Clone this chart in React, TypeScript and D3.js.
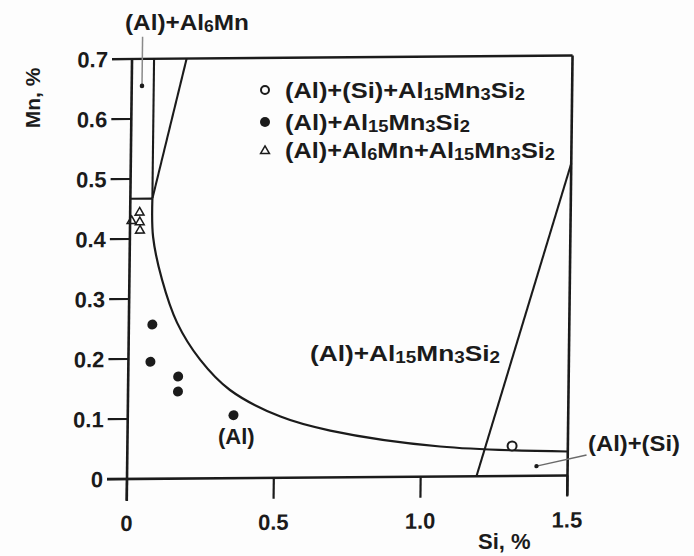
import React from "react";
import * as d3 from "d3";

// Axis ticks
const SI_TICKS = [0, 0.5, 1.0, 1.5];
const SI_TICK_LABELS = ["0", "0.5", "1.0", "1.5"];
const MN_TICKS = [0, 0.1, 0.2, 0.3, 0.4, 0.5, 0.6, 0.7];
const MN_TICK_LABELS = ["0", "0.1", "0.2", "0.3", "0.4", "0.5", "0.6", "0.7"];

// Phase boundaries, [Si %, Mn %]
const AL6MN_WALL: [number, number][] = [[0.075, 0.7], [0.075, 0.467]];
const AL6MN_FLOOR: [number, number][] = [[0, 0.467], [0.075, 0.467]];
const AL6MN_EDGE: [number, number][] = [[0.186, 0.7], [0.075, 0.467]];
const SOLVUS: [number, number][] = [
  [0.075, 0.467], [0.079, 0.403], [0.111, 0.332], [0.164, 0.26],
  [0.244, 0.198], [0.347, 0.147], [0.52, 0.102], [0.69, 0.078],
  [1.065, 0.05], [1.5, 0.04],
];
const SI_EDGE: [number, number][] = [[1.19, 0], [1.5, 0.52]];

// Alloy compositions by observed phases
const OPEN_SI = [1.31];
const OPEN_MN = [0.05];
const FILLED_SI = [0.08, 0.075, 0.17, 0.17, 0.36];
const FILLED_MN = [0.257, 0.195, 0.17, 0.145, 0.105];
const TRI_SI = [0.005, 0.032, 0.033, 0.034];
const TRI_MN = [0.43, 0.444, 0.428, 0.414];

const INK = "#1b1b1b";
const FONT = "'Liberation Sans', Arial, Helvetica, sans-serif";

const x = d3.scaleLinear().domain([0, 1.5]).range([127, 567.5]);
const y = d3.scaleLinear().domain([0, 0.7]).range([479, 59]);

const line = d3.line<[number, number]>().x((d) => x(d[0])).y((d) => y(d[1]));
const curve = d3
  .line<[number, number]>()
  .x((d) => x(d[0]))
  .y((d) => y(d[1]))
  .curve(d3.curveCatmullRom.alpha(0.5));
const tri = d3.symbol(d3.symbolTriangle, 34)();

function Sub({ children }: { children: string }) {
  return (
    <tspan fontSize="0.72em" dy={2}>
      {children}
    </tspan>
  );
}
function Up({ children }: { children: string }) {
  return <tspan dy={-2}>{children}</tspan>;
}

export default function App() {
  return (
    <svg
      width={694}
      height={556}
      style={{ position: "absolute", left: 0, top: 0, background: "#fdfdfd" }}
      fontFamily={FONT}
    >
      <g transform="matrix(1,-0.008,-0.012,1,5.75,1.02)">
        {/* frame */}
        <line x1={x(0)} x2={x(0)} y1={y(0.7)} y2={y(0) + 22} stroke={INK} strokeWidth={2.6} />
        <line x1={x(0) - 20} x2={x(1.5)} y1={y(0)} y2={y(0)} stroke={INK} strokeWidth={2.6} />
        <line x1={x(0) - 20} x2={x(1.5)} y1={y(0.7)} y2={y(0.7)} stroke={INK} strokeWidth={2.4} />
        <line x1={x(1.5)} x2={x(1.5)} y1={y(0.7)} y2={y(0) + 20} stroke={INK} strokeWidth={2.6} />
        {/* ticks */}
        {MN_TICKS.map((t) => (
          <line key={"my" + t} x1={x(0) - 20} x2={x(0)} y1={y(t)} y2={y(t)} stroke={INK} strokeWidth={2.2} />
        ))}
        {SI_TICKS.map((t) => (
          <line key={"sx" + t} x1={x(t)} x2={x(t)} y1={y(0)} y2={y(0) + 21} stroke={INK} strokeWidth={2.2} />
        ))}
        {MN_TICKS.map((t, i) => (
          <text
            key={"ml" + t}
            x={x(0) - 24}
            y={y(t) + 8}
            textAnchor="end"
            fontSize={22}
            fontWeight="bold"
            fill={INK}
          >
            {MN_TICK_LABELS[i]}
          </text>
        ))}
        {SI_TICKS.map((t, i) => (
          <text
            key={"sl" + t}
            x={x(t)}
            y={y(0) + 52}
            textAnchor="middle"
            fontSize={22}
            fontWeight="bold"
            fill={INK}
          >
            {SI_TICK_LABELS[i]}
          </text>
        ))}

        {/* phase boundaries */}
        {[AL6MN_WALL, AL6MN_FLOOR, AL6MN_EDGE, SI_EDGE].map((seg, i) => (
          <path key={"b" + i} d={line(seg) || ""} fill="none" stroke={INK} strokeWidth={2.1} />
        ))}
        <path d={curve(SOLVUS) || ""} fill="none" stroke={INK} strokeWidth={2.2} />

        {/* leader arrows */}
        <line x1={x(0.035)} x2={x(0.035)} y1={y(0.737)} y2={y(0.655)} stroke="#8a8a8a" strokeWidth={1.5} />
        <circle cx={x(0.035)} cy={y(0.655)} r={2.3} fill={INK} />
        <line x1={x(1.564)} x2={x(1.394)} y1={y(0.034)} y2={y(0.016)} stroke="#6a6a6a" strokeWidth={1.5} />
        <circle cx={x(1.394)} cy={y(0.016)} r={2.2} fill={INK} />

        {/* alloy points */}
        {FILLED_SI.map((s, i) => (
          <circle key={"f" + i} cx={x(s)} cy={y(FILLED_MN[i])} r={5} fill={INK} />
        ))}
        {OPEN_SI.map((s, i) => (
          <circle key={"o" + i} cx={x(s)} cy={y(OPEN_MN[i])} r={4.5} fill="#fdfdfd" stroke={INK} strokeWidth={2} />
        ))}
        {TRI_SI.map((s, i) => (
          <path
            key={"t" + i}
            d={tri || ""}
            transform={`translate(${x(s)},${y(TRI_MN[i])})`}
            fill="none"
            stroke={INK}
            strokeWidth={1.5}
          />
        ))}
      </g>

      {/* axis titles */}
      <text
        transform="translate(40,98) rotate(-90)"
        textAnchor="middle"
        fontSize={21}
        fontWeight="bold"
        fill={INK}
      >
        Mn, %
      </text>
      <text x={478} y={549} fontSize={22} fontWeight="bold" fill={INK}>
        Si, %
      </text>

      {/* legend */}
      <circle cx={265} cy={90} r={4} fill="none" stroke={INK} strokeWidth={2} />
      <circle cx={265} cy={122} r={5} fill={INK} />
      <path d={tri || ""} transform="translate(265,151)" fill="none" stroke={INK} strokeWidth={1.5} />
      <g fontSize={22} fontWeight="bold" fill={INK}>
        <text x={285} y={98} textLength={240} lengthAdjust="spacingAndGlyphs">
          (Al)+(Si)+Al<Sub>15</Sub>
          <Up>Mn</Up>
          <Sub>3</Sub>
          <Up>Si</Up>
          <Sub>2</Sub>
        </text>
        <text x={285} y={130} textLength={185} lengthAdjust="spacingAndGlyphs">
          (Al)+Al<Sub>15</Sub>
          <Up>Mn</Up>
          <Sub>3</Sub>
          <Up>Si</Up>
          <Sub>2</Sub>
        </text>
        <text x={285} y={158} textLength={270} lengthAdjust="spacingAndGlyphs">
          (Al)+Al<Sub>6</Sub>
          <Up>Mn+Al</Up>
          <Sub>15</Sub>
          <Up>Mn</Up>
          <Sub>3</Sub>
          <Up>Si</Up>
          <Sub>2</Sub>
        </text>

        {/* phase field labels */}
        <text x={125} y={30} textLength={124} lengthAdjust="spacingAndGlyphs">
          (Al)+Al<Sub>6</Sub>
          <Up>Mn</Up>
        </text>
        <text x={310} y={361} textLength={190} lengthAdjust="spacingAndGlyphs">
          (Al)+Al<Sub>15</Sub>
          <Up>Mn</Up>
          <Sub>3</Sub>
          <Up>Si</Up>
          <Sub>2</Sub>
        </text>
        <text x={218} y={444}>(Al)</text>
        <text x={588} y={451} textLength={92} lengthAdjust="spacingAndGlyphs">
          (Al)+(Si)
        </text>
      </g>
    </svg>
  );
}
